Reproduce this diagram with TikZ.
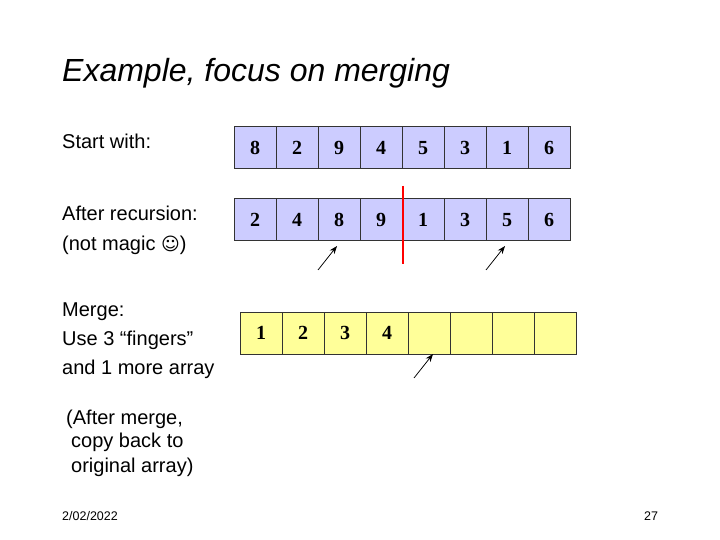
\documentclass[tikz,border=0pt]{standalone}
\usepackage{fontspec}
\usetikzlibrary{arrows.meta}
\setmainfont{Liberation Sans}
\newfontfamily\cellfont{Liberation Serif}
\newfontfamily\smileyfont{DejaVu Sans}
\definecolor{cellblue}{HTML}{CCCCFF}
\definecolor{cellyellow}{HTML}{FFFF99}
\tikzset{
  cell/.style={draw=black!80,line width=1pt,minimum size=42pt,inner sep=0pt,text height=13.5pt,text depth=0pt,font=\cellfont\fontsize{20}{20}\selectfont\bfseries},
  bluecell/.style={cell,fill=cellblue},
  yellowcell/.style={cell,fill=cellyellow},
  label/.style={anchor=base west,inner sep=0pt,font=\fontsize{20}{24}\selectfont},
  small/.style={anchor=base west,inner sep=0pt,font=\fontsize{12.5}{14}\selectfont},
  finger/.style={-{Stealth[length=8pt,width=6pt]},line width=0.75pt}
}
\begin{document}
\begin{tikzpicture}[x=1pt,y=-1pt]
  \useasboundingbox (0,0) rectangle (720,540);

  %draw title
  \node[anchor=base west,inner sep=0pt,font=\fontsize{32}{38}\selectfont\itshape] (title) at (62,82) {Example, focus on merging};

  %draw left text
  \node[label] (start) at (62,149) {Start with:};
  \node[label] (after) at (62,221) {After recursion:};
  \node[label] (magic) at (62,250) {(not magic {\smileyfont\fontsize{18}{18}\selectfont ☺})};
  \node[label] (merge) at (62,316) {Merge:};
  \node[label] (use) at (62,345) {Use 3 “fingers”};
  \node[label] (more) at (62,374) {and 1 more array};
  \node[label] (aftermerge) at (66,424) {(After merge,};
  \node[label] (copy) at (71,447.5) {copy back to};
  \node[label] (orig) at (71,472) {original array)};

  %draw arrays
  \foreach \v [count=\i] in {8,2,9,4,5,3,1,6}
     \node[bluecell] (a\i) at (213+42*\i,147.5) {\v};
  \foreach \v [count=\i] in {2,4,8,9,1,3,5,6}
     \node[bluecell] (b\i) at (213+42*\i,219.5) {\v};
  \foreach \v [count=\i] in {1,2,3,4,{},{},{},{}}
     \node[yellowcell] (c\i) at (219+42*\i,333) {\v};

  %draw red split
  \coordinate (splittop) at (402.5,186);
  \coordinate (splitbot) at (402.5,264);
  \draw[red,line width=2pt] (splittop) -- (splitbot);

  %draw fingers
  \coordinate (f1) at (318,270);
  \coordinate (t1) at (337,246);
  \coordinate (f2) at (486,270);
  \coordinate (t2) at (505,246);
  \coordinate (f3) at (414,378);
  \coordinate (t3) at (433,354);
  \foreach \n in {1,2,3}
     \draw[finger] (f\n) -- (t\n);

  %draw footer
  \node[small] (date) at (62,520) {2/02/2022};
  \node[small] (page) at (644,520) {27};
\end{tikzpicture}
\end{document}
